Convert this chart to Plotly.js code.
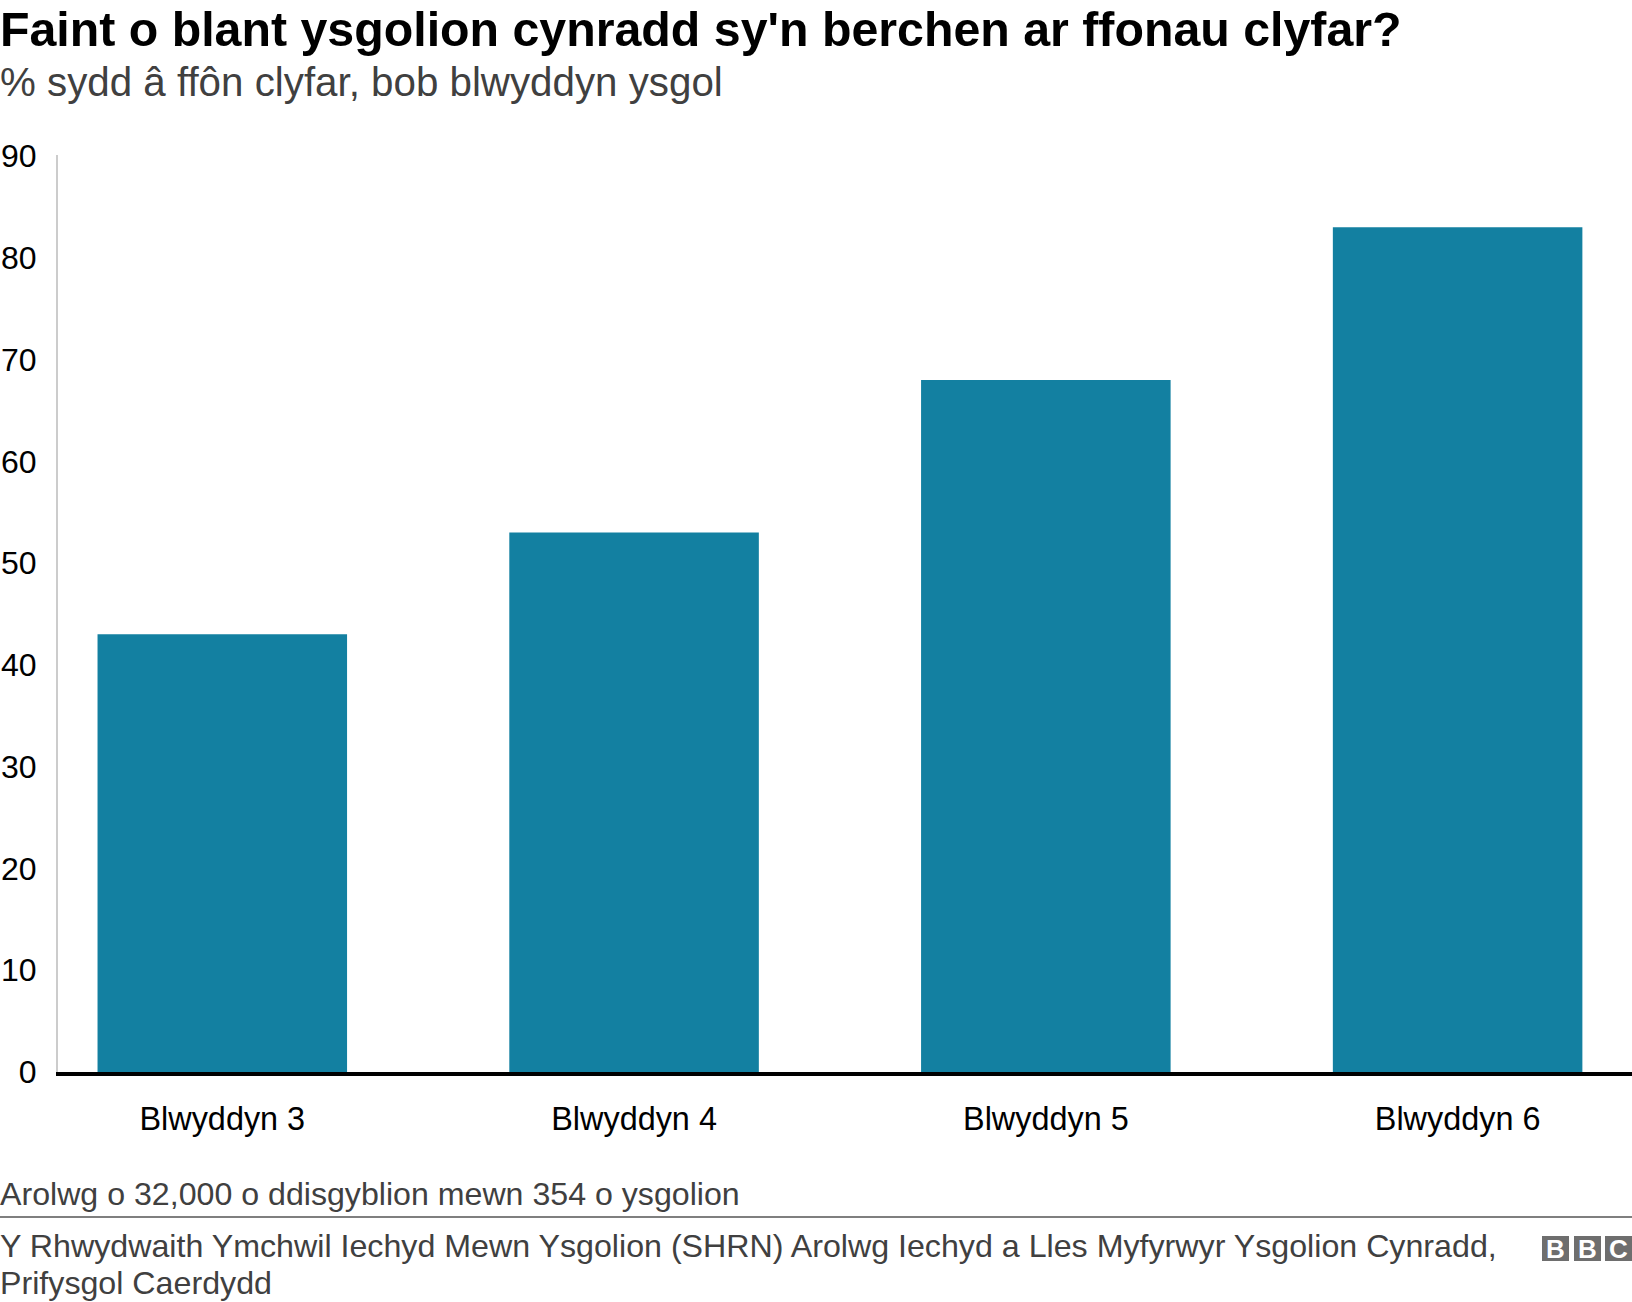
<!DOCTYPE html>
<html>
<head>
<meta charset="utf-8">
<script src="https://cdn.plot.ly/plotly-3.0.1.min.js"></script>
<style>html,body{margin:0;padding:0;background:#fff}#chart{width:1632px;height:1302px}</style>
</head>
<body>
<div id="chart"></div>
<script>
const categories = ["Blwyddyn 3", "Blwyddyn 4", "Blwyddyn 5", "Blwyddyn 6"];
const values = [43, 53, 68, 83];
const yTicks = [0, 10, 20, 30, 40, 50, 60, 70, 80, 90];
const titleText = "Faint o blant ysgolion cynradd sy'n berchen ar ffonau clyfar?";
const subtitleText = "% sydd â ffôn clyfar, bob blwyddyn ysgol";
const noteText = "Arolwg o 32,000 o ddisgyblion mewn 354 o ysgolion";
const sourceLine1 = "Y Rhwydwaith Ymchwil Iechyd Mewn Ysgolion (SHRN) Arolwg Iechyd a Lles Myfyrwyr Ysgolion Cynradd,";
const sourceLine2 = "Prifysgol Caerdydd";
const logoLetters = ["B", "B", "C"];

const W = 1632, H = 1302;
const m = {l: 58, r: 0, t: 155, b: 230};
const pw = W - m.l - m.r, ph = H - m.t - m.b;
const px = x => (x - m.l) / pw;
const py = y => 1 - (y - m.t) / ph;
const FONT = "Liberation Sans, Arial, sans-serif";

function label(text, x, yMid, size, color, bold) {
  return {
    text: bold ? "<b>" + text + "</b>" : text,
    xref: "paper", yref: "paper", x: px(x), y: py(yMid),
    xanchor: "left", yanchor: "middle", showarrow: false, align: "left",
    borderpad: 0, font: {family: FONT, size: size, color: color}
  };
}

const annotations = [
  label(titleText, -1, 29, 48.3, "#000000", true),
  label(subtitleText, -1, 83, 40.3, "#404040", false),
  label(noteText, -1, 1194, 32.15, "#404040", false),
  label(sourceLine1, -1, 1246, 32.2, "#404040", false),
  label(sourceLine2, -1, 1283, 32.2, "#404040", false)
];

const logoX = [1542, 1574, 1605];
const shapes = [{
  type: "line", xref: "paper", yref: "paper",
  x0: px(0), x1: px(W), y0: py(1217), y1: py(1217),
  line: {color: "#7f7f7f", width: 2}
}];
logoLetters.forEach((ch, i) => {
  shapes.push({
    type: "rect", xref: "paper", yref: "paper",
    x0: px(logoX[i]), x1: px(logoX[i] + 27), y0: py(1236), y1: py(1261),
    fillcolor: "#6e6e6e", line: {width: 0}
  });
  annotations.push({
    text: "<b>" + ch + "</b>", xref: "paper", yref: "paper",
    x: px(logoX[i] + 13.5), y: py(1249), xanchor: "center", yanchor: "middle",
    showarrow: false, borderpad: 0, font: {family: FONT, size: 26, color: "#ffffff"}
  });
});

Plotly.newPlot("chart", [{
  type: "bar", x: categories, y: values,
  marker: {color: "#1380a1", line: {width: 0}},
  hoverinfo: "x+y"
}], {
  width: W, height: H, margin: m,
  paper_bgcolor: "#ffffff", plot_bgcolor: "#ffffff",
  font: {family: FONT, color: "#000000"},
  showlegend: false, bargap: 0.394,
  xaxis: {
    type: "category", range: [-0.399, 3.4235], showgrid: false, zeroline: false,
    showline: true, linecolor: "#000000", linewidth: 4, ticks: "",
    ticklabelstandoff: 15, tickfont: {family: FONT, size: 32.4, color: "#000000"}
  },
  yaxis: {
    range: [0, 90.1], tickmode: "array", tickvals: yTicks, ticktext: yTicks.map(String),
    showgrid: false, zeroline: false, showline: true, linecolor: "#cccccc", linewidth: 2,
    ticks: "", ticklabelstandoff: 13, tickfont: {family: FONT, size: 32, color: "#000000"}
  },
  shapes: shapes, annotations: annotations
}, {displayModeBar: false, staticPlot: true});
</script>
</body>
</html>
